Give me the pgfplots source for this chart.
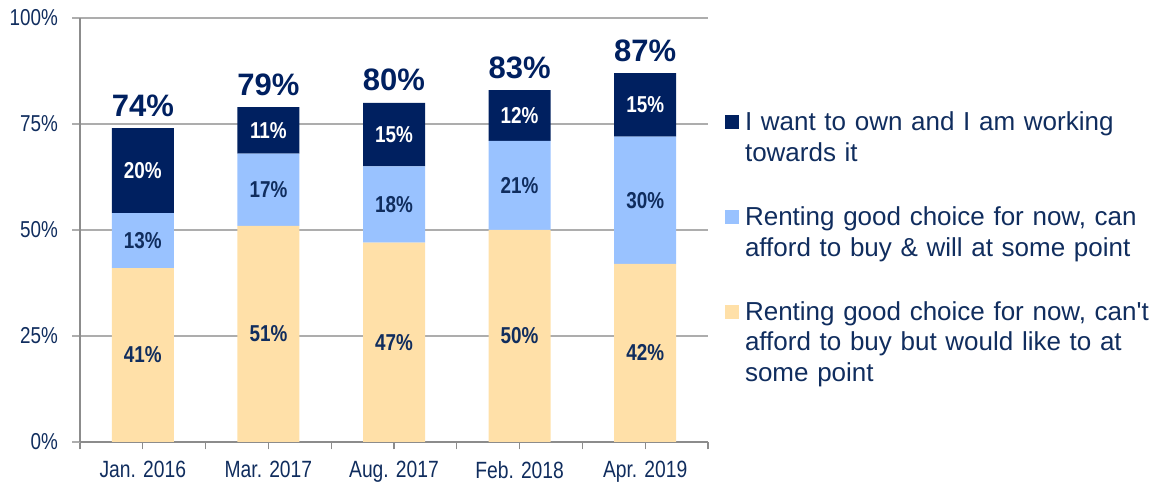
\documentclass[border=0pt]{standalone}
\usepackage{fontspec}
\setmainfont{Liberation Sans}
\newfontfamily\narrowfont[FakeStretch=0.82]{Liberation Sans}
\usepackage{pgfplots}
\pgfplotsset{compat=1.18}
\definecolor{navy}{HTML}{002060}
\definecolor{lblue}{HTML}{99C2FF}
\definecolor{beige}{HTML}{FFE0A8}
\definecolor{txt}{HTML}{102D5E}
\definecolor{gridc}{HTML}{ADADAD}
\definecolor{axc}{HTML}{8C8C8C}
\begin{document}
\begin{tikzpicture}
\path[use as bounding box] (0,0) rectangle (1162pt,484pt);
\begin{axis}[
  at={(80pt,42pt)}, anchor=south west,
  scale only axis, width=628pt, height=424pt,
  xmin=-0.5, xmax=4.5, ymin=0, ymax=100,
  ybar stacked, bar width=62pt,
  axis lines*=left,
  x axis line style={draw=axc, line width=2pt},
  y axis line style={draw=axc, line width=1.3pt},
  ytick={0,25,50,75,100},
  yticklabels={0\%,25\%,50\%,75\%,100\%},
  ymajorgrids, grid style={draw=gridc, line width=1.2pt},
  tick align=outside,
  major tick length=7.5pt,
  ytick style={draw=gridc, line width=1.2pt},
  xtick={-0.5,0.5,1.5,2.5,3.5,4.5},
  xticklabels={,,,,,},
  xtick style={draw=axc, line width=1.3pt},
  extra x ticks={0,1,2,3,4},
  extra x tick labels={Jan. 2016,Mar. 2017,Aug. 2017,Feb. 2018,Apr. 2019},
  extra x tick style={tick style={draw=none}, grid=none},
  yticklabel style={font=\narrowfont\fontsize{23}{27}\selectfont, text=txt, xshift=-11pt},
  xticklabel style={font=\narrowfont\fontsize{23.5}{27}\selectfont, text=txt, yshift=-8pt},
  legend style={at={(1.0271,0.7846)}, anchor=north west, draw=none, fill=none,
    inner sep=0pt, outer sep=0pt, row sep=72pt, column sep=6pt,
    font=\fontsize{26}{30.5}\selectfont, text=txt,
    nodes={inner sep=0pt, outer sep=0pt, text width=420pt, align=left},
    cells={anchor=base west}},
  reverse legend,
]
\addplot[fill=beige, draw=none, legend image code/.code={\fill[beige] (0pt,1.5pt) rectangle (14pt,15.5pt);}]
  coordinates {(0,41) (1,51) (2,47) (3,50) (4,42)};
\addlegendentry{\strut Renting good choice for now, can\textquotesingle t\\afford to buy but would like to at\\some point\strut}
\addplot[fill=lblue, draw=none, legend image code/.code={\fill[lblue] (0pt,1.5pt) rectangle (14pt,15.5pt);}]
  coordinates {(0,13) (1,17) (2,18) (3,21) (4,30)};
\addlegendentry{\strut Renting good choice for now, can\\afford to buy \& will at some point\strut}
\addplot[fill=navy, draw=none, legend image code/.code={\fill[navy] (0pt,1.5pt) rectangle (14pt,15.5pt);}]
  coordinates {(0,20) (1,11) (2,15) (3,12) (4,15)};
\addlegendentry{\strut I want to own and I am working\\towards it\strut}
\end{axis}
\begin{axis}[
  at={(80pt,42pt)}, anchor=south west,
  scale only axis, width=628pt, height=424pt,
  xmin=-0.5, xmax=4.5, ymin=0, ymax=100,
  hide axis, clip=false,
  point meta=explicit symbolic,
  nodes near coords={\pgfplotspointmeta\%},
]
\addplot[draw=none, every node near coord/.append style={anchor=center, text=txt, font=\narrowfont\bfseries\fontsize{23}{27}\selectfont}]
  coordinates {(0,20.5)[41] (1,25.5)[51] (2,23.5)[47] (3,25)[50] (4,21)[42]};
\addplot[draw=none, every node near coord/.append style={anchor=center, text=txt, font=\narrowfont\bfseries\fontsize{23}{27}\selectfont}]
  coordinates {(0,47.5)[13] (1,59.5)[17] (2,56)[18] (3,60.5)[21] (4,57)[30]};
\addplot[draw=none, every node near coord/.append style={anchor=center, text=white, font=\narrowfont\bfseries\fontsize{23}{27}\selectfont}]
  coordinates {(0,64)[20] (1,73.5)[11] (2,72.5)[15] (3,77)[12] (4,79.5)[15]};
\addplot[draw=none, every node near coord/.append style={anchor=base, yshift=12pt, inner sep=0pt, text=navy, font=\bfseries\fontsize{31}{36}\selectfont}]
  coordinates {(0,74)[74] (1,79)[79] (2,80)[80] (3,83)[83] (4,87)[87]};
\end{axis}
\end{tikzpicture}
\end{document}
